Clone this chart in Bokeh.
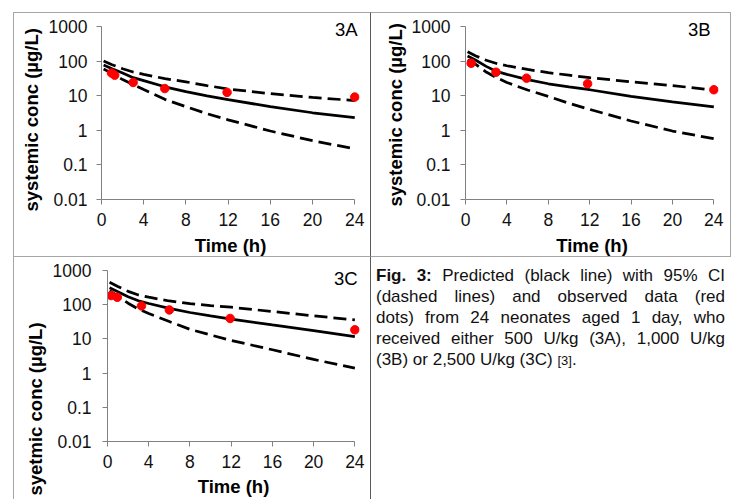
import math
from bokeh.plotting import figure
from bokeh.models import FixedTicker, Label, Div, Range1d, Title
from bokeh.layouts import row, column
from bokeh.embed import file_html
from bokeh.resources import INLINE

# ---------------- data ----------------
time_pred = [0.2, 1, 2, 3, 4, 6, 8, 10, 12, 16, 20, 24]

a_pred = [77, 60, 45, 33, 27, 18, 13, 9.8, 7.7, 4.8, 3.2, 2.3]
a_upper = [100, 78, 60, 48, 41, 31, 25, 19.5, 15.5, 11.4, 8.9, 7.2]
a_lower = [59, 44, 29, 21, 15, 7.8, 4.8, 3.0, 2.0, 0.95, 0.5, 0.29]
a_obs_t = [0.95, 1.25, 3.0, 6.0, 11.9, 24.0]
a_obs = [45, 39, 24, 16, 12.4, 9.1]

b_pred = [140, 105, 70, 50, 41, 29, 22, 18, 14.8, 9.5, 6.6, 4.7]
b_upper = [185, 140, 105, 85, 73, 57, 46, 39, 33, 25, 19.5, 14.5]
b_lower = [107, 80, 48, 33, 24, 14.5, 9.5, 6.0, 4.0, 1.85, 0.95, 0.57]
b_obs_t = [0.55, 2.95, 5.9, 11.8, 24.0]
b_obs = [86, 47.5, 32, 22, 14.8]

c_pred = [310, 240, 170, 130, 108, 78, 59, 47, 38, 25.5, 17.5, 11.7]
c_upper = [450, 340, 245, 192, 165, 128, 107, 94, 84, 63, 47, 36]
c_lower = [255, 180, 110, 74, 55, 32, 19, 13, 9, 4.8, 2.5, 1.4]
c_obs_t = [0.35, 0.95, 3.3, 6.0, 11.9, 24.0]
c_obs = [184, 164, 92, 70, 39.5, 18.4]

x_ticks = [0, 4, 8, 12, 16, 20, 24]
y_ticks = [0.01, 0.1, 1, 10, 100, 1000]
y_tick_labels = ["0.01", "0.1", "1", "10", "100", "1000"]
panel_names = ["3A", "3B", "3C"]
y_titles = ["systemic conc (\u00b5g/L)", "systemic conc (\u00b5g/L)", "syetmic conc (\u00b5g/L)"]
x_title = "Time (h)"
caption_lines = [
    "<b>Fig. 3:</b> Predicted (black line) with 95% CI",
    "(dashed lines) and observed data (red",
    "dots) from 24 neonates aged 1 day, who",
    "received either 500 U/kg (3A), 1,000 U/kg",
    "(3B) or 2,500 U/kg (3C) <span style=\"font-size:13px\">[3]</span>.",
]

FONT = "Liberation Sans"
X_END = 24.45
EXTRA_TOP = 11  # px of frame above the 1000 gridline


def make_panel(pred, upper, lower, obs_t, obs, name, ytitle,
               width, height, left, frame_w, top, frame_h,
               ytitle_offset, ytitle_standoff, name_x, name_y, ystand, xstand, border):
    fw = frame_w * X_END / 24.0
    right = width - left - fw
    decade = frame_h / 5.0
    y_end = 1000 * 10 ** (EXTRA_TOP / decade)
    top_b = top - EXTRA_TOP
    bottom = height - top - frame_h
    p = figure(width=width, height=height, x_range=Range1d(0, X_END),
               y_range=Range1d(0.01, y_end), y_axis_type="log",
               output_backend="svg", toolbar_location=None,
               min_border_left=left, min_border_right=int(round(right)),
               min_border_top=top_b, min_border_bottom=bottom,
               styles=border)
    p.outline_line_color = None
    p.grid.visible = False
    p.background_fill_color = "white"
    p.border_fill_color = "white"

    p.line(time_pred, upper, line_color="black", line_width=2.75,
           line_dash="13 6")
    p.line(time_pred, lower, line_color="black", line_width=2.75,
           line_dash="13 6")
    p.line(time_pred, pred, line_color="black", line_width=2.75)
    p.scatter(obs_t, obs, size=8.5, fill_color="#ff0000", line_color="#ff0000")

    xa = p.xaxis[0]
    xa.ticker = FixedTicker(ticks=x_ticks)
    xa.bounds = (0, 24)
    xa.axis_label = x_title
    xa.axis_label_text_font = FONT
    xa.axis_label_text_font_style = "bold"
    xa.axis_label_text_font_size = "18.5px"
    xa.axis_label_text_color = "black"
    xa.axis_label_standoff = xstand

    ya = p.yaxis[0]
    ya.ticker = FixedTicker(ticks=y_ticks)
    ya.bounds = (0.01, 1000)
    ya.major_label_overrides = {t: s for t, s in zip(y_ticks, y_tick_labels)}
    ya.major_label_standoff = ystand

    for ax in (xa, ya):
        ax.axis_line_color = "#808080"
        ax.major_tick_line_color = "#808080"
        ax.major_tick_in = 0
        ax.major_tick_out = 5
        ax.minor_tick_line_color = None
        ax.major_label_text_font = FONT
        ax.major_label_text_font_size = "17.5px"
        ax.major_label_text_color = "#111111"
    xa.major_label_standoff = 8

    p.add_layout(Title(text=ytitle, align="left", offset=ytitle_offset,
                       standoff=ytitle_standoff,
                       text_font=FONT, text_font_style="bold",
                       text_font_size="18.5px", text_color="black"), "left")
    p.add_layout(Label(x=name_x, y=name_y, text=name, text_align="right",
                       text_baseline="middle", text_font=FONT,
                       text_font_size="18.5px", text_color="black"))
    return p


LIGHT = "1px solid #a6a6a6"
DARK = "1px solid #5a5a5a"

pA = make_panel(a_pred, a_upper, a_lower, a_obs_t, a_obs, panel_names[0], y_titles[0],
                width=358, height=245, left=86, frame_w=254, top=13, frame_h=175,
                ytitle_offset=-12, ytitle_standoff=8, name_x=24.28, name_y=837,
                ystand=9, xstand=6,
                border={"border-left": LIGHT, "border-top": LIGHT,
                        "border-bottom": LIGHT, "border-right": DARK})
pB = make_panel(b_pred, b_upper, b_lower, b_obs_t, b_obs, panel_names[1], y_titles[1],
                width=360, height=245, left=94, frame_w=248, top=13, frame_h=175,
                ytitle_offset=-7, ytitle_standoff=5, name_x=23.68, name_y=837,
                ystand=10, xstand=6,
                border={"border-top": LIGHT, "border-bottom": LIGHT,
                        "border-right": LIGHT})
pC = make_panel(c_pred, c_upper, c_lower, c_obs_t, c_obs, panel_names[2], y_titles[2],
                width=358, height=242, left=93, frame_w=247, top=13, frame_h=172,
                ytitle_offset=-54, ytitle_standoff=7, name_x=24.27, name_y=585,
                ystand=11, xstand=5,
                border={"border-left": LIGHT, "border-right": DARK})

line_divs = []
for i, ln in enumerate(caption_lines):
    last = "justify" if i < len(caption_lines) - 1 else "left"
    line_divs.append(
        f'<div style="text-align:justify;text-align-last:{last};">{ln}</div>')
caption_html = (
    f'<div style="font-family:\'{FONT}\',Arial,sans-serif;font-size:17px;'
    f'line-height:21px;color:#111;width:349px;">' + "".join(line_divs) + "</div>")

cap = Div(text=caption_html, width=349, height=120, margin=(8, 0, 0, 5))

layout = column(row(pA, pB), row(pC, cap), margin=(12, 0, 0, 13))

open("out.html", "w").write(file_html(layout, INLINE))
